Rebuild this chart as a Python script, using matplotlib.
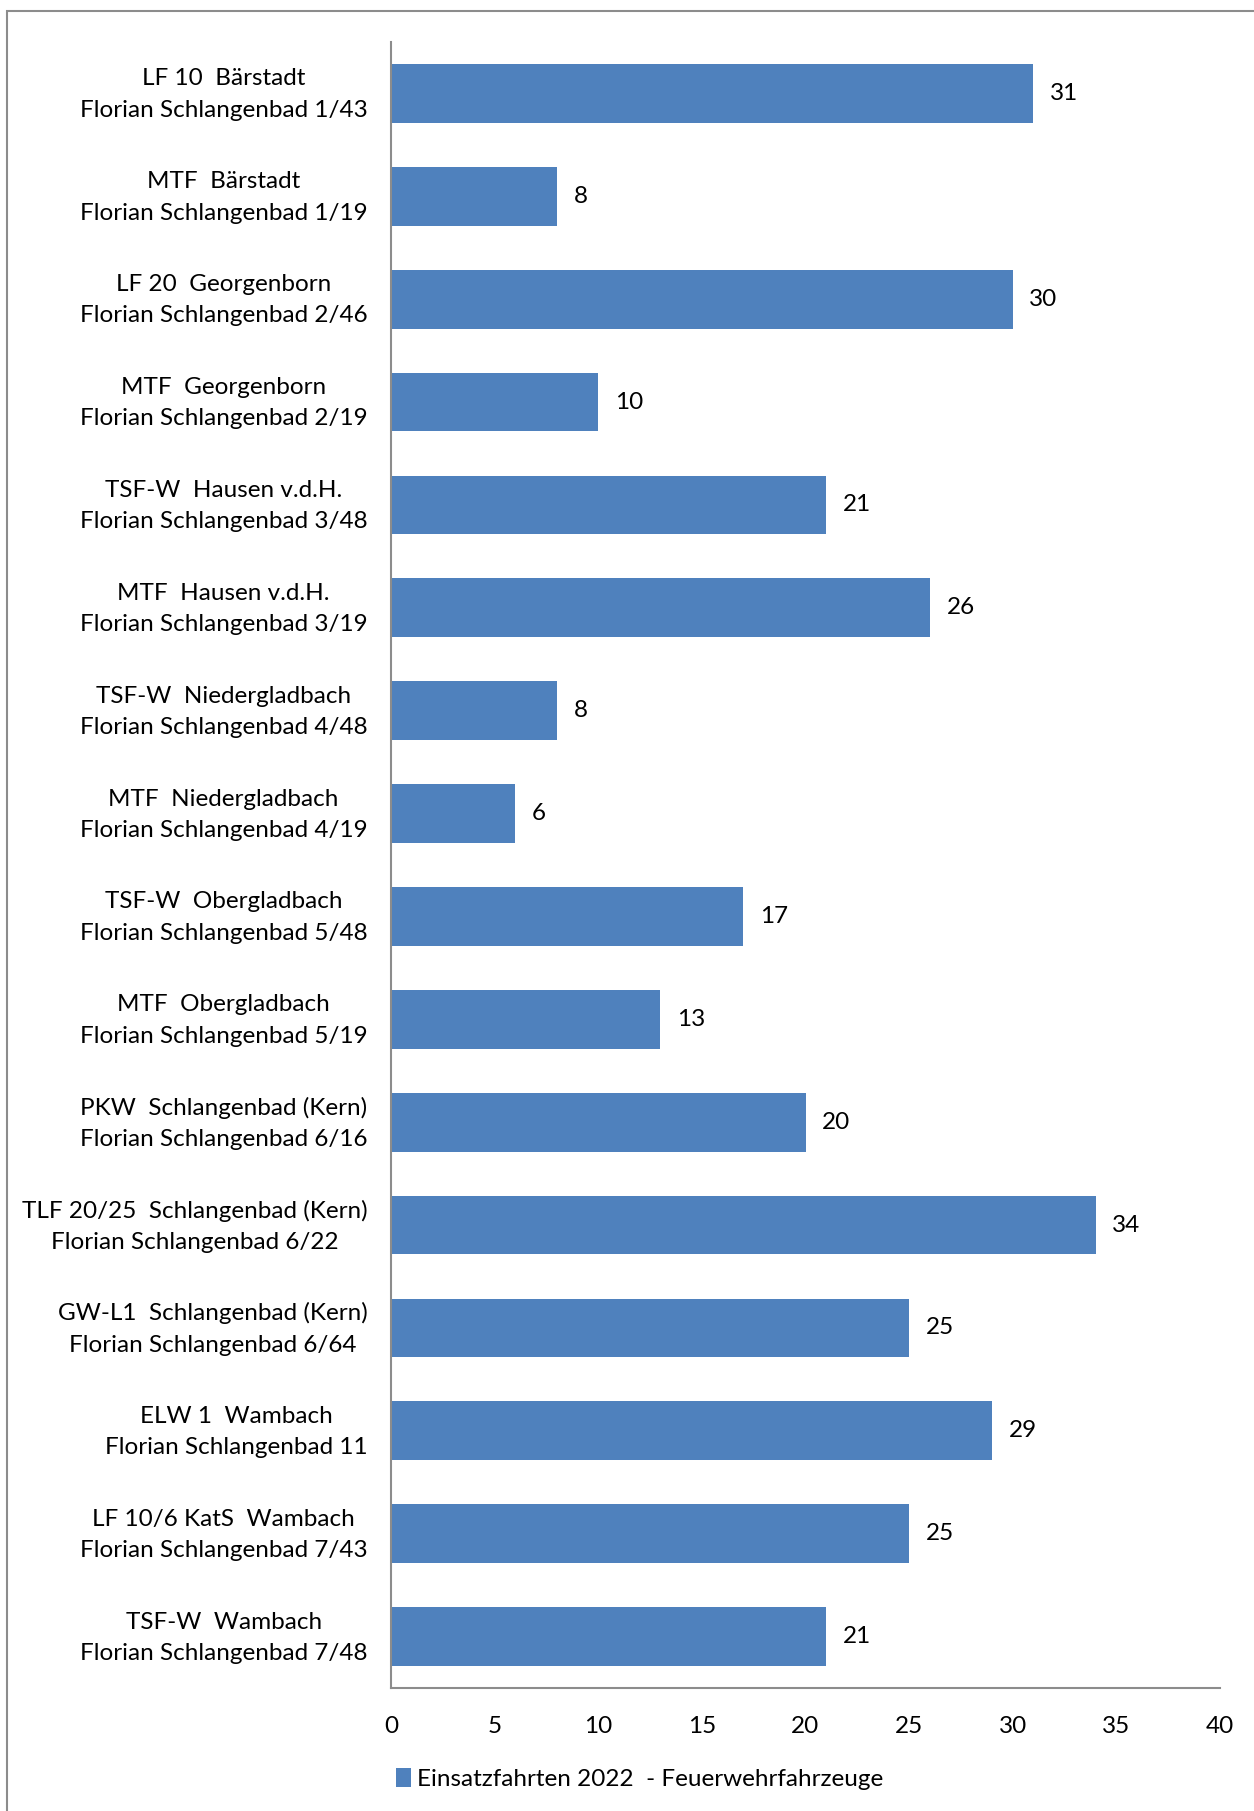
import matplotlib
matplotlib.use("Agg")
import matplotlib.pyplot as plt
import matplotlib.transforms as mtransforms
from matplotlib.patches import Rectangle

plt.rcParams['font.family'] = ['Lato', 'DejaVu Sans']

categories = [
    "LF 10  Bärstadt\nFlorian Schlangenbad 1/43",
    "MTF  Bärstadt\nFlorian Schlangenbad 1/19",
    "LF 20  Georgenborn\nFlorian Schlangenbad 2/46",
    "MTF  Georgenborn\nFlorian Schlangenbad 2/19",
    "TSF-W  Hausen v.d.H.\nFlorian Schlangenbad 3/48",
    "MTF  Hausen v.d.H.\nFlorian Schlangenbad 3/19",
    "TSF-W  Niedergladbach\nFlorian Schlangenbad 4/48",
    "MTF  Niedergladbach\nFlorian Schlangenbad 4/19",
    "TSF-W  Obergladbach\nFlorian Schlangenbad 5/48",
    "MTF  Obergladbach\nFlorian Schlangenbad 5/19",
    "PKW  Schlangenbad (Kern)\nFlorian Schlangenbad 6/16",
    "TLF 20/25  Schlangenbad (Kern)\nFlorian Schlangenbad 6/22",
    "GW-L1  Schlangenbad (Kern)\nFlorian Schlangenbad 6/64",
    "ELW 1  Wambach\nFlorian Schlangenbad 11",
    "LF 10/6 KatS  Wambach\nFlorian Schlangenbad 7/43",
    "TSF-W  Wambach\nFlorian Schlangenbad 7/48",
]
values = [31, 8, 30, 10, 21, 26, 8, 6, 17, 13, 20, 34, 25, 29, 25, 21]
xticks = [0, 5, 10, 15, 20, 25, 30, 35, 40]
series_name = "Einsatzfahrten 2022  - Feuerwehrfahrzeuge"

W, H = 1254, 1811
fig = plt.figure(figsize=(W/100, H/100), dpi=100)
fig.patch.set_facecolor('white')

# outer frame (extends past right/bottom edge)
fig.patches.append(Rectangle((7/W, -0.01), 1.02, 1 - 11/H + 0.01, transform=fig.transFigure,
                             fill=False, edgecolor='#8c8c8c', linewidth=1.5))

left, right, top, bottom = 391, 1220, 42, 1688
ax = fig.add_axes([left/W, 1 - bottom/H, (right-left)/W, (bottom-top)/H])

fs = 17.5
color = '#4F81BD'
y = list(range(len(values)))
bars = ax.barh(y, values, height=0.57, color=color, label=series_name, zorder=2)
ax.set_ylim(len(values) - 0.5, -0.5)
ax.set_xlim(0, 40)
ax.set_xticks(xticks)
ax.set_xticklabels([str(t) for t in xticks])
ax.set_yticks(y)
ax.set_yticklabels(categories, multialignment='center', ha='right', linespacing=1.6)
ax.tick_params(axis='both', length=0, labelsize=fs, colors='black')
ax.tick_params(axis='y', pad=17)
ax.tick_params(axis='x', pad=20)

shift = mtransforms.ScaledTranslation(0, 6/100, fig.dpi_scale_trans)
for lab in ax.get_yticklabels():
    lab.set_transform(lab.get_transform() + shift)

for s in ['top', 'right']:
    ax.spines[s].set_visible(False)
for s in ['left', 'bottom']:
    ax.spines[s].set_color('#8c8c8c')
    ax.spines[s].set_linewidth(1.5)

for yi, v in zip(y, values):
    ax.annotate(str(v), (v, yi), xytext=(12, 0), textcoords='offset points',
                ha='left', va='center', fontsize=fs)

leg = fig.legend(handles=[bars], labels=[series_name], loc='center left',
                 bbox_to_anchor=(396/W, 1 - 1779/H), frameon=False, fontsize=fs,
                 handlelength=0.6, handleheight=0.8, handletextpad=0.25,
                 borderaxespad=0, borderpad=0)

fig.savefig('out.png', dpi=100)
